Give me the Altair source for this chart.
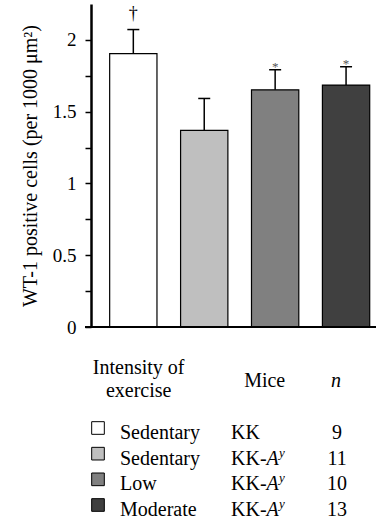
import altair as alt
import pandas as pd

# ---- data ----
groups = ["KK sedentary", "KK-Ay sedentary", "KK-Ay low", "KK-Ay moderate"]
means = [1.905, 1.370, 1.652, 1.685]
upper = [2.072, 1.592, 1.792, 1.813]
fills = ["#ffffff", "#bfbfbf", "#808080", "#404040"]
marks = ["\u2020", "", "*", "*"]
y_ticks = [0, 0.25, 0.5, 0.75, 1.0, 1.25, 1.5, 1.75, 2.0]

intensity = ["Sedentary", "Sedentary", "Low", "Moderate"]
mice = ["KK", "KK-Ay", "KK-Ay", "KK-Ay"]
n_mice = ["9", "11", "10", "13"]
header_intensity = ["Intensity of", "exercise"]
header_mice = "Mice"
header_n = "n"
y_title = "WT-1 positive cells (per 1000 \u03bcm\u00b2)"

FONT = "'Liberation Serif', 'DejaVu Serif', serif"
W, H = 285, 323

df = pd.DataFrame({"group": groups, "mean": means, "upper": upper, "mark": marks})

xenc = alt.X("group:N", sort=groups, axis=None,
             scale=alt.Scale(paddingInner=0.333, paddingOuter=0.176, align=0.748))
yscale = alt.Scale(domain=[0, 2.25], nice=False, zero=True)
color = alt.Color("group:N", scale=alt.Scale(domain=groups, range=fills), legend=None)

yaxis = alt.Axis(
    values=y_ticks,
    labelExpr="datum.value % 0.5 == 0 ? format(datum.value, '~g') : ''",
    titleFont=FONT, titleFontSize=20, titleFontWeight="normal", titleColor="black",
    titlePadding=12,
    labelFont=FONT, labelFontSize=19, labelColor="black", labelPadding=9,
    tickSize=6, tickWidth=1.5, tickColor="black",
    domainColor="black", domainWidth=2.5, grid=False,
)

base = alt.Chart(df)
bars = base.mark_bar(stroke="black", strokeWidth=1.2, opacity=1).encode(
    x=xenc, y=alt.Y("mean:Q", scale=yscale, axis=yaxis, title=y_title), color=color
)
err = base.mark_rule(color="black", strokeWidth=1.5).encode(
    x=xenc, y=alt.Y("mean:Q", title=y_title), y2="upper:Q"
)
cap = base.mark_tick(color="black", thickness=1.5, size=12, orient="horizontal", opacity=1).encode(
    x=xenc, y=alt.Y("upper:Q", title=y_title)
)
dagger = base.transform_filter("datum.mark == '\u2020'").mark_text(
    font=FONT, fontSize=18, baseline="alphabetic", dy=-10.7, color="black"
).encode(x=xenc, y=alt.Y("upper:Q", title=y_title), text="mark:N")
stars = base.transform_filter("datum.mark == '*'").mark_text(
    font=FONT, fontSize=13, baseline="alphabetic", dy=1.4, color="#555555"
).encode(x=xenc, y=alt.Y("upper:Q", title=y_title), text="mark:N")
baseline = alt.Chart(pd.DataFrame({"y": [0]})).mark_rule(color="black", strokeWidth=2).encode(
    y=alt.Y("y:Q", scale=yscale, title=y_title), x=alt.value(-6), x2=alt.value(W)
)

top = alt.layer(bars, err, cap, dagger, stars, baseline).properties(width=W, height=H)

# ---- custom legend table ----
prefix = [m.split("-")[0] + "-" if "-" in m else m for m in mice]
ital = [m.split("-")[1][0] if "-" in m else "" for m in mice]
sup = [m.split("-")[1][1:] if "-" in m else "" for m in mice]
ldf = pd.DataFrame({"group": groups, "intensity": intensity, "prefix": prefix,
                    "ital": ital, "sup": sup, "n": n_mice})
yrow = alt.Y("group:N", sort=groups, scale=alt.Scale(type="point", padding=0), axis=None)
lbase = alt.Chart(ldf)
txt = dict(font=FONT, fontSize=20, color="black", baseline="alphabetic")

squares = lbase.mark_square(size=160, opacity=1, stroke="black", strokeWidth=1, yOffset=-11).encode(
    x=alt.value(7), y=yrow, color=color
)
t_int = lbase.mark_text(align="left", **txt).encode(x=alt.value(29), y=yrow, text="intensity:N")
t_pre = lbase.mark_text(align="left", **txt).encode(x=alt.value(140), y=yrow, text="prefix:N")
t_ital = lbase.mark_text(align="left", fontStyle="italic", **txt).encode(
    x=alt.value(175.5), y=yrow, text="ital:N")
t_sup = lbase.mark_text(align="left", fontStyle="italic", font=FONT, fontSize=13, color="black",
                        baseline="alphabetic", dy=-8).encode(x=alt.value(188), y=yrow, text="sup:N")
t_n = lbase.mark_text(align="center", **txt).encode(x=alt.value(246), y=yrow, text="n:N")

h_int = alt.Chart(pd.DataFrame({"t": ["\n".join(header_intensity)]})).mark_text(
    align="center", lineBreak="\n", lineHeight=23, **txt
).encode(x=alt.value(47.7), y=alt.value(-65), text="t:N")
h_mice = alt.Chart(pd.DataFrame({"t": [header_mice]})).mark_text(align="center", **txt).encode(
    x=alt.value(173.7), y=alt.value(-52), text="t:N")
h_n = alt.Chart(pd.DataFrame({"t": [header_n]})).mark_text(
    align="center", fontStyle="italic", **txt).encode(x=alt.value(245), y=alt.value(-52), text="t:N")

legend = alt.layer(squares, t_int, t_pre, t_ital, t_sup, t_n, h_int, h_mice, h_n).properties(
    width=W, height=77)

chart = alt.vconcat(top, legend, spacing=112, bounds="flush").properties(
    padding={"left": 20, "top": 4, "right": 4, "bottom": 0}
).configure_view(stroke=None)

chart.save("out.html", embed_options={"renderer": "svg", "actions": False})
